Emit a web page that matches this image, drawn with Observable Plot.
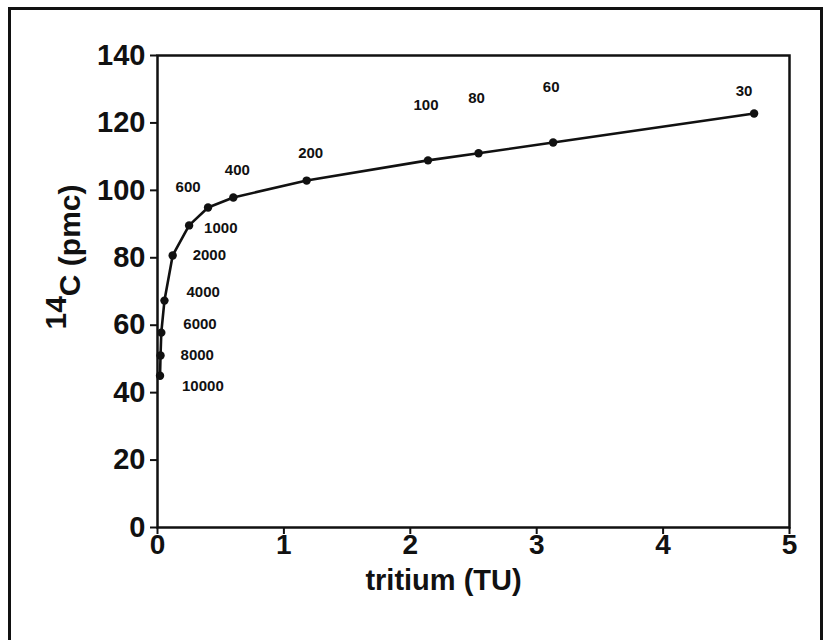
<!DOCTYPE html>
<html>
<head>
<meta charset="utf-8">
<script src="https://cdn.jsdelivr.net/npm/d3@7"></script>
<script src="https://cdn.jsdelivr.net/npm/@observablehq/plot@0.6"></script>
<style>
  html, body { margin: 0; padding: 0; background: #fff; }
  #wrap { position: relative; width: 827px; height: 640px; overflow: hidden; }
  #border { position: absolute; left: 8px; top: 7px; width: 815px; height: 700px;
            border: 3px solid #111; box-sizing: border-box; }
  #chart { position: absolute; left: 0; top: 0; }
</style>
</head>
<body>
<div id="wrap"><div id="border"></div><div id="chart"></div></div>
<script>
// Mean residence ages (years) labelled along the mixing curve
const ages = [10000, 8000, 6000, 4000, 2000, 1000, 600, 400, 200, 100, 80, 60, 30];
// Tritium (TU)
const tritium = [0.02, 0.024, 0.03, 0.055, 0.12, 0.25, 0.40, 0.60, 1.18, 2.14, 2.54, 3.13, 4.72];
// 14C (pmc)
const c14 = [45, 51, 57.8, 67.3, 80.7, 89.6, 94.9, 97.9, 102.9, 108.9, 111, 114.2, 122.8];
const xTicks = [0, 1, 2, 3, 4, 5];
const yTicks = [0, 20, 40, 60, 80, 100, 120, 140];

const data = ages.map((a, i) => ({age: a, t: tritium[i], c: c14[i]}));
const pick = (list) => data.filter(d => list.includes(d.age));

const font = "'Liberation Sans', Arial, sans-serif";
const lblStyle = {x: "t", y: "c", text: d => String(d.age), fontSize: 15, fontWeight: "bold", fill: "#111"};

const plot = Plot.plot({
  width: 827,
  height: 640,
  marginLeft: 157,
  marginRight: 38,
  marginTop: 55,
  marginBottom: 113,
  style: {fontFamily: font, background: "transparent", color: "#111"},
  x: {domain: [0, 5], ticks: xTicks, label: null},
  y: {domain: [0, 140], ticks: yTicks, label: null},
  marks: [
    Plot.frame({stroke: "#111", strokeWidth: 2.5}),
    Plot.axisX({ticks: xTicks, tickFormat: d => String(d), tickSize: 7, tickPadding: 0, fontSize: 28, fontWeight: "bold", strokeWidth: 2, label: null}),
    Plot.axisY({ticks: yTicks, tickFormat: d => String(d), tickSize: 7, tickPadding: 5, fontSize: 29, fontWeight: "bold", strokeWidth: 2, label: null}),
    Plot.line(data, {x: "t", y: "c", stroke: "#111", strokeWidth: 2.6}),
    Plot.dot(data, {x: "t", y: "c", r: 4.2, fill: "#111"}),
    Plot.text(pick([10000]), {...lblStyle, textAnchor: "start", dx: 22, dy: 10}),
    Plot.text(pick([8000, 2000]), {...lblStyle, textAnchor: "start", dx: 20, dy: 0}),
    Plot.text(pick([6000, 4000]), {...lblStyle, textAnchor: "start", dx: 22, dy: -8}),
    Plot.text(pick([1000]), {...lblStyle, textAnchor: "start", dx: 15, dy: 3}),
    Plot.text(pick([600]), {...lblStyle, dx: -20, dy: -20}),
    Plot.text(pick([400, 200]), {...lblStyle, dx: 4, dy: -27}),
    Plot.text(pick([100, 80, 60]), {...lblStyle, dx: -2, dy: -55}),
    Plot.text(pick([30]), {...lblStyle, dx: -10, dy: -22}),
    Plot.text(["tritium (TU)"], {frameAnchor: "bottom", dx: -30, dy: 62, fontSize: 29, fontWeight: "bold", fill: "#111"})
  ]
});
document.getElementById("chart").appendChild(plot);

// Y axis title with superscript 14
const svg = d3.select(plot);
const yt = svg.append("text")
  .attr("transform", "translate(80,257) rotate(-90)")
  .attr("text-anchor", "middle")
  .attr("font-size", 30)
  .attr("font-weight", "bold")
  .attr("font-family", font)
  .attr("fill", "#111");
yt.append("tspan").attr("dy", -14).text("14");
yt.append("tspan").attr("dy", 14).text("C (pmc)");
</script>
</body>
</html>
